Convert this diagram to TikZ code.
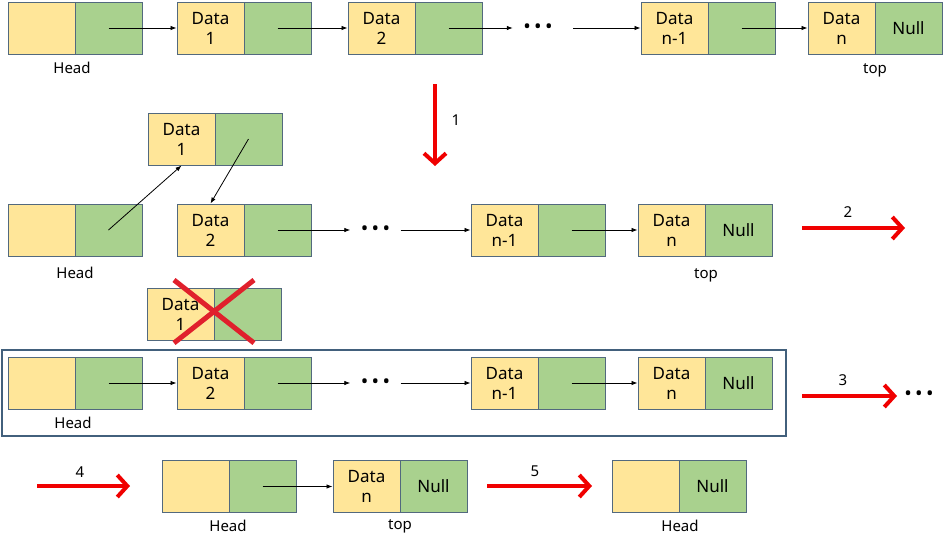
\documentclass[tikz,border=0pt]{standalone}
\usepackage{fontspec}
\setmainfont{Noto Sans}
\usetikzlibrary{arrows.meta}
\definecolor{cy}{HTML}{FFE699}
\definecolor{cg}{HTML}{A9D18E}
\definecolor{cb}{HTML}{52697E}
\definecolor{fr}{HTML}{42607C}
\definecolor{rd}{HTML}{F00000}
\definecolor{xr}{HTML}{E0202C}
\begin{document}
\begin{tikzpicture}[x=1pt,y=-1pt,
  cellY/.style={draw=cb, fill=cy, line width=1pt, minimum width=67pt, minimum height=52pt, inner sep=0pt, font=\fontsize{17}{20}\selectfont, align=center},
  cellG/.style={cellY, fill=cg},
  lbl/.style={font=\fontsize{15}{18}\selectfont, inner sep=0pt},
  dotsnode/.style={font=\fontsize{20}{20}\selectfont, minimum width=50pt, inner sep=0pt},
  ptr/.style={-{Latex[length=6pt,width=4.5pt]}, line width=0.8pt},
  bigarrow/.style={-{Straight Barb[length=10pt,width=22pt]}, line width=4pt, draw=rd},
  crossline/.style={line width=5pt, draw=xr}
]
\useasboundingbox (0,0) rectangle (944,536);

% ---------- Row 1 ----------
\node[cellY] (r1h) at (41.5,28) {};
\node[cellG] (r1hg) at (108.5,28) {};
\node[cellY] (r1d1) at (210.5,28) {Data\\1};
\node[cellG] (r1d1g) at (277.5,28) {};
\node[cellY] (r1d2) at (381.5,28) {Data\\2};
\node[cellG] (r1d2g) at (448.5,28) {};
\node[dotsnode] (r1dots) at (538,29) {\textbullet\,\textbullet\,\textbullet};
\node[cellY] (r1dm) at (674.5,28) {Data\\n-1};
\node[cellG] (r1dmg) at (741.5,28) {};
\node[cellY] (r1dn) at (841.5,28) {Data\\n};
\node[cellG] (r1dng) at (908.5,28) {Null};
\node[lbl] (r1head) at (72,68) {Head};
\node[lbl] (r1top) at (875,70) {top};
\draw[ptr] (r1hg.center) -- (r1d1.west);
\draw[ptr] (r1d1g.center) -- (r1d2.west);
\draw[ptr] (r1d2g.center) -- (r1d2g.center -| r1dots.west);
\draw[ptr, shorten <=10pt] (r1dots.east |- r1dm.west) -- (r1dm.west);
\draw[ptr] (r1dmg.center) -- (r1dn.west);

% ---------- Step 1 ----------
\coordinate (s1a) at (435,84);
\coordinate (s1b) at (435,166);
\draw[bigarrow] (s1a) -- (s1b);
\node[lbl] (s1l) at (456,120) {1};

% ---------- Row 2 ----------
\node[cellY] (r2d1) at (181.5,139) {Data\\1};
\node[cellG] (r2d1g) at (248.5,139) {};
\node[cellY] (r2h) at (41.5,230) {};
\node[cellG] (r2hg) at (108.5,230) {};
\node[cellY] (r2d2) at (210.5,230) {Data\\2};
\node[cellG] (r2d2g) at (277.5,230) {};
\node[dotsnode] (r2dots) at (375.5,231) {\textbullet\,\textbullet\,\textbullet};
\node[cellY] (r2dm) at (504.5,230) {Data\\n-1};
\node[cellG] (r2dmg) at (571.5,230) {};
\node[cellY] (r2dn) at (671.5,230) {Data\\n};
\node[cellG] (r2dng) at (738.5,230) {Null};
\node[lbl] (r2head) at (75,273) {Head};
\node[lbl] (r2top) at (706,275) {top};
\draw[ptr] (r2hg.center) -- (r2d1.south);
\draw[ptr] (r2d1g.center) -- (r2d2.north);
\draw[ptr] (r2d2g.center) -- (r2d2g.center -| r2dots.west);
\draw[ptr] (r2dots.east |- r2dm.west) -- (r2dm.west);
\draw[ptr] (r2dmg.center) -- (r2dn.west);

\coordinate (s2a) at (802,228);
\coordinate (s2b) at (905,228);
\draw[bigarrow] (s2a) -- (s2b);
\node[lbl] (s2l) at (848,212) {2};

% ---------- Removed node ----------
\node[cellY] (xd1) at (180.5,314) {Data\\1};
\node[cellG] (xd1g) at (247.5,314) {};
\coordinate (xa) at (174,280);
\coordinate (xb) at (254,343);
\coordinate (xc) at (254,280);
\coordinate (xd) at (174,343);
\draw[crossline] (xa) -- (xb);
\draw[crossline] (xc) -- (xd);

% ---------- Row 3 ----------
\draw[draw=fr, line width=2pt] (2,350) rectangle (786,436);
\node[cellY] (r3h) at (41.5,383) {};
\node[cellG] (r3hg) at (108.5,383) {};
\node[cellY] (r3d2) at (210.5,383) {Data\\2};
\node[cellG] (r3d2g) at (277.5,383) {};
\node[dotsnode] (r3dots) at (375.5,384) {\textbullet\,\textbullet\,\textbullet};
\node[cellY] (r3dm) at (504.5,383) {Data\\n-1};
\node[cellG] (r3dmg) at (571.5,383) {};
\node[cellY] (r3dn) at (671.5,383) {Data\\n};
\node[cellG] (r3dng) at (738.5,383) {Null};
\node[lbl] (r3head) at (73,423) {Head};
\draw[ptr] (r3hg.center) -- (r3d2.west);
\draw[ptr] (r3d2g.center) -- (r3d2g.center -| r3dots.west);
\draw[ptr] (r3dots.east |- r3dm.west) -- (r3dm.west);
\draw[ptr] (r3dmg.center) -- (r3dn.west);

\coordinate (s3a) at (802,396);
\coordinate (s3b) at (897,396);
\draw[bigarrow] (s3a) -- (s3b);
\node[lbl] (s3l) at (843,380) {3};
\node[dotsnode] (s3dots) at (919,396) {\textbullet\,\textbullet\,\textbullet};

% ---------- Row 4 ----------
\coordinate (s4a) at (37,486);
\coordinate (s4b) at (130,486);
\draw[bigarrow] (s4a) -- (s4b);
\node[lbl] (s4l) at (80,472) {4};
\node[cellY] (r4h) at (195.5,486.5) {};
\node[cellG] (r4hg) at (262.5,486.5) {};
\node[cellY] (r4dn) at (366.5,486.5) {Data\\n};
\node[cellG] (r4dng) at (433.5,486.5) {Null};
\node[lbl] (r4head) at (228,526) {Head};
\node[lbl] (r4top) at (400,526) {top};
\draw[ptr] (r4hg.center) -- (r4dn.west);

\coordinate (s5a) at (487,486);
\coordinate (s5b) at (592,486);
\draw[bigarrow] (s5a) -- (s5b);
\node[lbl] (s5l) at (535,471) {5};
\node[cellY] (r5h) at (645.5,486.5) {};
\node[cellG] (r5hg) at (712.5,486.5) {Null};
\node[lbl] (r5head) at (680,526) {Head};
\end{tikzpicture}
\end{document}
